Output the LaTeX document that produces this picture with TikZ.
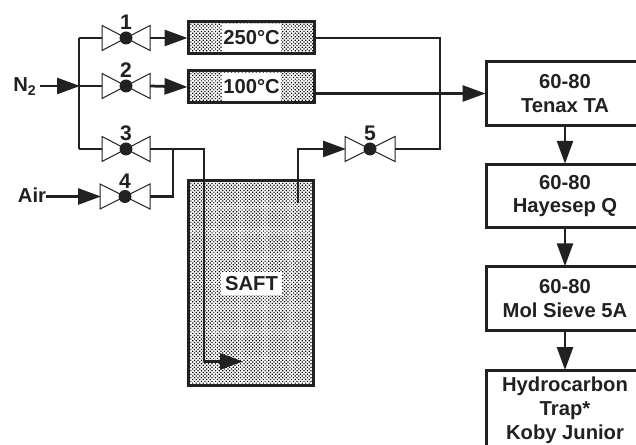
\documentclass[tikz,border=0pt]{standalone}
\usepackage{fontspec}
\setmainfont{Liberation Sans}
\usetikzlibrary{arrows.meta,patterns.meta,positioning}
\definecolor{ink}{gray}{0.13}
\tikzset{
  pipe/.style={
    draw=ink,
    line width=0.055cm
  },
  flow/.style={
    pipe,
    -{Triangle[length=0.46cm,width=0.32cm]},
    shorten >=-0.02cm
  },
  shaded/.style={
    shape = rectangle,
    draw=ink,
    line width=0.06cm,
    pattern={Dots[distance=0.05cm,angle=45,radius=0.017cm]},
    pattern color=black,
    inner sep=0pt
  },
  column/.style={
    shape = rectangle,
    draw=ink,
    line width=0.06cm,
    fill=white,
    minimum width=3.16cm,
    minimum height=1.27cm,
    inner sep=0pt,
    align=center,
    text=ink,
    font=\fontsize{11.5}{13.6}\selectfont\bfseries
  },
  label/.style={
    fill=white,
    inner sep=1pt,
    text=ink,
    font=\fontsize{11.5}{13.6}\selectfont\bfseries
  },
  tag/.style={
    inner sep=0pt,
    text=ink,
    font=\fontsize{12}{14}\selectfont\bfseries
  },
  valvedot/.style={
    inner sep = 0pt,
    minimum size=0.26cm,
    shape = circle,
    fill=ink
  },
  every picture/.style = {
    x=0.02cm,
    y=-0.02cm
  }
}
\begin{document}
\begin{tikzpicture}
    \path[use as bounding box, clip] (0,0) rectangle (636,445);
    % ovens and trap
    \node[shaded, minimum width=2.54cm, minimum height=0.64cm] (oven1) at (251.5,38) {};
    \node[shaded, minimum width=2.54cm, minimum height=0.64cm] (oven2) at (251.5,87) {};
    \node[shaded, minimum width=2.52cm, minimum height=4.12cm] (saft) at (251,283) {};
    \node[label, minimum height=0.55cm] (oven1text) at (oven1) {250°C};
    \node[label, minimum height=0.55cm] (oven2text) at (oven2) {100°C};
    \node[label, inner sep=2.5pt] (safttext) at (251.5,283.5) {SAFT};
    % columns
    \node[column] (tenax) at (565,93.5) {60-80\\Tenax TA};
    \node[column] (hayesep) at (565,196) {60-80\\Hayesep Q};
    \node[column] (molsieve) at (565,298.5) {60-80\\Mol Sieve 5A};
    \node[column, anchor=north, minimum height=1.6cm] (koby) at (565,369) {Hydrocarbon\\Trap*\\Koby Junior};
    % valves
    \foreach \n/\vx/\vy/\vw in {1/126/38/24, 2/126/86/24, 3/126/149/24, 4/125/196.5/25, 5/370/149/25}{
        \coordinate (v\n l) at (\vx-\vw,\vy);
        \coordinate (v\n r) at (\vx+\vw,\vy);
        \draw[ink, line width=0.02cm] (\vx-\vw,\vy-12.5) -- (\vx+\vw,\vy+12.5) -- (\vx+\vw,\vy-12.5) -- (\vx-\vw,\vy+12.5) -- cycle;
        \node[valvedot] (v\n) at (\vx,\vy) {};
        \node[tag, above=0.5pt of v\n] (v\n tag) {\n};
    }
    % feed lines
    \node[label, fill=none, inner sep=0pt] (nitrogen) at (25,86.5) {N\textsubscript{2}};
    \node[label, fill=none, inner sep=0pt] (air) at (32,195.5) {Air};
    \coordinate (tee) at (79,86);
    \coordinate (tee4) at (173,149);
    \coordinate (n2start) at (40,86);
    \draw[pipe] (tee |- v1l) -- (v1l);
    \draw[pipe] (tee) -- (v2l);
    \draw[pipe] (tee |- v3l) -- (v3l);
    \draw[pipe] (tee |- v1l) -- (tee |- v3l);
    \draw[flow] (n2start) -- (tee);
    \draw[flow] (air.east |- v4l) -- (v4l);
    \draw[flow] (v1r) -- (oven1.west);
    \draw[flow] (v2r) -- (oven2.west);
    \draw[pipe] (v4r) -| (tee4);
    % through the trap
    \coordinate (dip) at (204,149);
    \coordinate (dipend) at (242,361.5);
    \coordinate (vent) at (298,203);
    \draw[pipe] (v3r) -- (dip) -- (dip |- dipend);
    \draw[flow] (dip |- dipend) -- (dipend);
    \draw[flow] (vent) |- (v5l);
    % out to the columns
    \coordinate (bus) at (440,38);
    \draw[pipe] (oven1.east) -- (bus) |- (v5r);
    \draw[flow] (oven2.east |- tenax.west) -- (tenax.west);
    \draw[flow] (tenax) -- (hayesep);
    \draw[flow] (hayesep) -- (molsieve);
    \draw[flow] (molsieve) -- (koby);
\end{tikzpicture}
\end{document}
